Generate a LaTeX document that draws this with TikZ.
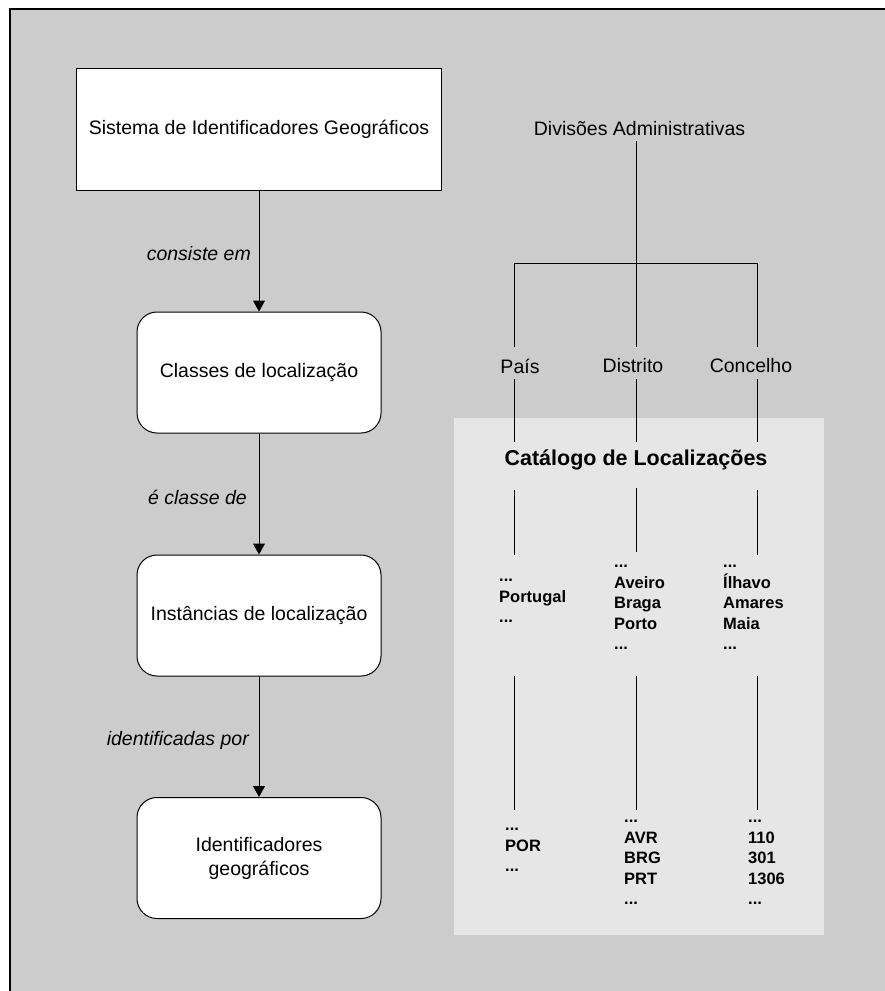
\documentclass[tikz,border=0pt]{standalone}
\usepackage{fontspec}
\setmainfont{Liberation Sans}
\usetikzlibrary{arrows.meta}
\definecolor{pagegray}{HTML}{CCCCCC}
\definecolor{catgray}{HTML}{E6E6E6}
\begin{document}
\begin{tikzpicture}[x=1pt,y=-1pt,
  lbl/.style={font=\fontsize{19.5}{24}\selectfont, inner sep=0pt},
  rel/.style={font=\fontsize{19.5}{24}\selectfont\itshape, inner sep=0pt, anchor=east},
  plainbox/.style={draw=black, fill=white, line width=1pt, minimum width=365pt, minimum height=122pt, inner sep=0pt, font=\fontsize{19.5}{24}\selectfont},
  roundbox/.style={draw=black, fill=white, line width=1pt, rounded corners=20pt, minimum width=244pt, minimum height=121pt, inner sep=0pt, align=center, font=\fontsize{19.5}{24}\selectfont},
  arr/.style={line width=1pt, -{Triangle[width=12pt,length=11pt]}},
  link/.style={line width=1pt},
  % anchored at the baseline of the last line of each list
  entries/.style={font=\fontsize{16.5}{20.5}\selectfont\bfseries, inner sep=0pt, align=left, anchor=base west}
]
\useasboundingbox (0,0) rectangle (885,991);
% sheet and its frame
\fill[white] (0,0) rectangle (885,991);
\fill[pagegray] (10,9) rectangle (885,991);
\draw[line width=1.5pt] (10,991) -- (10,9) -- (885,9);

% catalogue panel
\fill[catgray] (454,418) rectangle (824,935);

% left column: concept chain
\node[plainbox] (sys) at (259,129) {Sistema de Identificadores Geográficos};
\node[roundbox] (cls) at (259,372.5) {Classes de localização};
\node[roundbox] (inst) at (259,615.5) {Instâncias de localização};
\node[roundbox] (ident) at (259,858) {Identificadores\\geográficos};

\draw[arr] (sys.south) -- (cls.north);
\draw[arr] (cls.south) -- (inst.north);
\draw[arr] (inst.south) -- (ident.north);

\node[rel] (r1) at (251,254) {consiste em};
\node[rel] (r2) at (247,497) {é classe de};
\node[rel] (r3) at (249,740) {identificadas por};

% right column: administrative divisions
\node[lbl] (div) at (639.5,129) {Divisões Administrativas};
\node[lbl] (pais) at (520,366) {País};
\node[lbl] (dist) at (633,366) {Distrito};
\node[lbl] (conc) at (751,366) {Concelho};
\node[font=\fontsize{21.5}{26}\selectfont\bfseries, inner sep=0pt] (cat) at (636,460) {Catálogo de Localizações};

% branch points and line ends
\coordinate (top) at (636,141);
\coordinate (barL) at (514,263.5);
\coordinate (barR) at (757,263.5);
\coordinate (pA) at (514,347);
\coordinate (dA) at (636,347);
\coordinate (cA) at (757,347);
\coordinate (pB) at (514,379);
\coordinate (dB) at (636,379);
\coordinate (cB) at (757,379);
\coordinate (pC) at (514,442);
\coordinate (dC) at (636,442);
\coordinate (cC) at (757,442);
\coordinate (pD) at (514,490);
\coordinate (dD) at (636,488);
\coordinate (cD) at (757,490);
\coordinate (pE) at (514,555);
\coordinate (dE) at (636,552);
\coordinate (cE) at (757,555);
\coordinate (pF) at (514,676);
\coordinate (dF) at (636,676);
\coordinate (cF) at (757,676);
\coordinate (pG) at (514,810);
\coordinate (dG) at (636,810);
\coordinate (cG) at (757,810);

\draw[link] (top) -- (dA);
\draw[link] (pA) -- (barL) -- (barR) -- (cA);
\foreach \c in {p,d,c}{
  \draw[link] (\c B) -- (\c C);
  \draw[link] (\c D) -- (\c E);
  \draw[link] (\c F) -- (\c G);
}

% catalogue entries
\node[entries] (pnames) at (499,622.5) {...\\Portugal\\...};
\node[entries] (dnames) at (614,649.5) {...\\Aveiro\\Braga\\Porto\\...};
\node[entries] (cnames) at (723,649.5) {...\\Ílhavo\\Amares\\Maia\\...};
\node[entries] (pcodes) at (505,871.5) {...\\POR\\...};
\node[entries] (dcodes) at (624,904.5) {...\\AVR\\BRG\\PRT\\...};
\node[entries] (ccodes) at (748,904.5) {...\\110\\301\\1306\\...};
\end{tikzpicture}
\end{document}
